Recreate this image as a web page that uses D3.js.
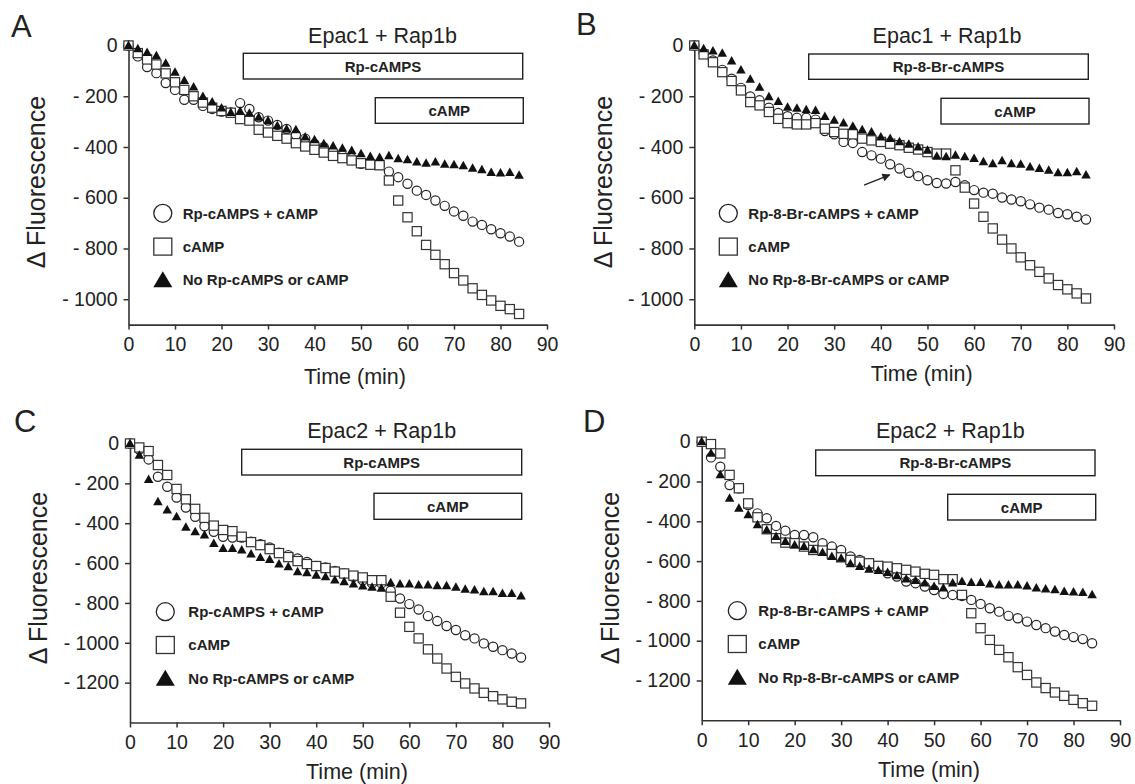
<!DOCTYPE html>
<html><head><meta charset="utf-8">
<script src="https://cdn.jsdelivr.net/npm/d3@7"></script>
<style>body{margin:0;background:#fff}svg{display:block}</style>
</head><body>
<svg id="chart" width="1135" height="784"></svg>
<script>
// ---------- data ----------
const timeMin = [0,2,4,6,8,10,12,14,16,18,20,22,24,26,28,30,32,34,36,38,40,42,44,46,48,50,52,54,56,58,60,62,64,66,68,70,72,74,76,78,80,82,84];
const xTicks = [0,10,20,30,40,50,60,70,80,90];
const yTicksEpac1 = [0,-200,-400,-600,-800,-1000];
const yTicksEpac2 = [0,-200,-400,-600,-800,-1000,-1200];

// Panel A: Epac1 + Rap1b, Rp-cAMPS
const aCircle = [0,-43,-85,-109,-148,-175,-214,-214,-238,-250,-260,-264,-227,-250,-283,-296,-313,-329,-352,-367,-388,-401,-419,-434,-444,-466,-470,-470,-497,-519,-545,-572,-589,-611,-632,-654,-671,-694,-707,-724,-740,-753,-773];
const aSquare = [0,-30,-55,-75,-110,-145,-175,-200,-225,-245,-258,-265,-290,-296,-332,-343,-356,-367,-385,-398,-411,-422,-435,-444,-453,-464,-470,-472,-532,-611,-677,-732,-786,-825,-862,-897,-926,-957,-983,-1005,-1026,-1039,-1058];
const aTriangle = [0,-13,-28,-41,-70,-106,-138,-164,-201,-223,-247,-264,-260,-267,-283,-296,-317,-329,-332,-361,-372,-388,-396,-405,-414,-427,-438,-442,-435,-447,-451,-460,-464,-460,-468,-470,-474,-484,-490,-501,-503,-501,-512];

// Panel B: Epac1 + Rap1b, Rp-8-Br-cAMPS
const bCircle = [0,-30,-59,-96,-131,-167,-201,-216,-245,-266,-279,-285,-285,-292,-337,-350,-380,-384,-420,-433,-446,-468,-485,-502,-515,-531,-542,-544,-538,-551,-570,-580,-584,-599,-607,-614,-626,-639,-647,-660,-665,-675,-686];
const bSquare = [0,-35,-66,-105,-140,-177,-223,-236,-262,-289,-306,-311,-311,-306,-328,-341,-348,-350,-367,-374,-380,-387,-393,-403,-410,-420,-426,-426,-492,-560,-623,-675,-721,-765,-800,-835,-866,-892,-918,-944,-961,-977,-997];
const bTriangle = [0,-13,-22,-31,-61,-97,-133,-165,-202,-221,-244,-248,-254,-257,-280,-295,-306,-319,-332,-341,-361,-367,-380,-390,-400,-413,-437,-439,-433,-439,-446,-459,-466,-455,-466,-468,-479,-485,-492,-502,-502,-498,-511];

// Panel C: Epac2 + Rap1b, Rp-cAMPS
const cCircle = [0,-30,-80,-167,-217,-271,-321,-368,-415,-443,-468,-472,-472,-493,-505,-522,-548,-560,-577,-594,-615,-622,-639,-652,-669,-686,-702,-702,-739,-778,-806,-833,-866,-891,-916,-936,-962,-978,-1003,-1020,-1037,-1054,-1074];
const cSquare = [0,-20,-38,-108,-158,-228,-280,-328,-373,-412,-434,-440,-468,-495,-510,-530,-550,-570,-590,-605,-615,-625,-643,-652,-663,-672,-686,-686,-769,-849,-920,-978,-1033,-1079,-1129,-1171,-1204,-1229,-1251,-1268,-1284,-1296,-1304];
const cTriangle = [0,-59,-181,-293,-334,-368,-421,-443,-460,-502,-527,-527,-535,-555,-572,-582,-605,-619,-644,-649,-661,-669,-686,-694,-706,-716,-722,-727,-699,-706,-706,-711,-711,-714,-714,-722,-732,-736,-744,-744,-753,-753,-766];

// Panel D: Epac2 + Rap1b, Rp-8-Br-cAMPS
const dCircle = [0,-79,-126,-218,-234,-318,-360,-385,-423,-447,-469,-469,-480,-510,-527,-544,-577,-594,-619,-636,-661,-678,-703,-711,-728,-745,-765,-770,-775,-795,-815,-837,-854,-875,-887,-904,-921,-937,-954,-971,-982,-992,-1013];
const dSquare = [0,-12,-59,-167,-234,-310,-380,-440,-485,-507,-510,-527,-544,-547,-564,-581,-594,-603,-611,-624,-628,-636,-644,-653,-664,-669,-691,-691,-770,-862,-937,-996,-1046,-1083,-1133,-1172,-1210,-1238,-1260,-1277,-1297,-1314,-1327];
const dTriangle = [0,-59,-167,-285,-335,-368,-418,-444,-477,-502,-519,-527,-544,-557,-577,-586,-614,-628,-641,-648,-658,-674,-691,-698,-711,-728,-736,-711,-703,-708,-708,-715,-720,-720,-720,-725,-736,-741,-745,-753,-756,-758,-770];

const panelLetters = ["A","B","C","D"];
const panelTitles = ["Epac1 + Rap1b","Epac1 + Rap1b","Epac2 + Rap1b","Epac2 + Rap1b"];
const inhibitorNames = ["Rp-cAMPS","Rp-8-Br-cAMPS","Rp-cAMPS","Rp-8-Br-cAMPS"];

// ---------- layout ----------
const FONT = "'Liberation Sans', Arial, Helvetica, sans-serif";
const INK = "#222";
const layout = [
  {x0:128.5, x90:547,  yTop:45.5,  yBot:324.6, ymin:-1100, yTicks:yTicksEpac1,
   letter:[11,37], title:[382.5,43.3], ytitle:[45,182], xtitle:[355,383.5],
   box1:[114.8,394.2,7.8,25.7], box2:[246.8,394.8,52.2,25.6], leg:[34.3,54.2,167.8,33.3]},
  {x0:694.3, x90:1114, yTop:45.5,  yBot:324.6, ymin:-1100, yTicks:yTicksEpac1,
   letter:[576,35], title:[947,43.3], ytitle:[611.7,182], xtitle:[921.7,381],
   box1:[114.4,394,8.5,25.3], box2:[246.7,394.7,52.8,25.7], leg:[34,54,167.8,33.3],
   arrow:[[36.4,-550],[41.9,-510]]},
  {x0:130,   x90:549,  yTop:443.5, yBot:722.5, ymin:-1400, yTicks:yTicksEpac2,
   letter:[14,431.7], title:[381.7,438.3], ytitle:[46.7,578], xtitle:[357,779],
   box1:[111.7,391.7,5.8,25.7], box2:[244,391.7,49.8,26], leg:[35.3,58.3,168.2,33.3]},
  {x0:701.7, x90:1120, yTop:441.7, yBot:720.3, ymin:-1400, yTicks:yTicksEpac2,
   letter:[583,432], title:[950.3,438.3], ytitle:[619,578], xtitle:[929,777],
   box1:[114,393.3,8.3,25.7], box2:[246,394,52.6,25.7], leg:[35.6,56.6,169,33.3]}
];
const seriesByPanel = [
  [aCircle,aSquare,aTriangle],[bCircle,bSquare,bTriangle],
  [cCircle,cSquare,cTriangle],[dCircle,dSquare,dTriangle]
];

const svg = d3.select("#chart");
const defs = svg.append("defs");
defs.append("marker").attr("id","arrowhead").attr("viewBox","0 0 10 10")
  .attr("refX",9).attr("refY",5).attr("markerWidth",9).attr("markerHeight",8)
  .attr("orient","auto").attr("markerUnits","userSpaceOnUse")
  .append("path").attr("d","M0,0 L10,5 L0,10 z").attr("fill",INK);

function triPath(cx, cy, w, h){
  return `M${cx},${cy - h*0.6} L${cx + w/2},${cy + h*0.4} L${cx - w/2},${cy + h*0.4} Z`;
}

layout.forEach((p, i) => {
  const g = svg.append("g").attr("font-family", FONT);
  const x = d3.scaleLinear().domain([0,90]).range([p.x0,p.x90]);
  const y = d3.scaleLinear().domain([0,p.ymin]).range([p.yTop,p.yBot]);

  // axes
  const xa = g.append("g").attr("transform",`translate(0,${p.yBot})`)
    .call(d3.axisBottom(x).tickValues(xTicks).tickSize(5).tickSizeOuter(0).tickPadding(7.5).tickFormat(d=>d));
  const ya = g.append("g").attr("transform",`translate(${p.x0},0)`)
    .call(d3.axisLeft(y).tickValues(p.yTicks).tickSize(5).tickSizeOuter(0).tickPadding(6)
      .tickFormat(d => d === 0 ? "0" : "- " + Math.abs(d)));
  [xa, ya].forEach(a => {
    a.select(".domain").attr("stroke","#333").attr("stroke-width",1.6);
    a.selectAll(".tick line").attr("stroke","#333").attr("stroke-width",1.5);
    a.selectAll(".tick text").attr("fill",INK).attr("font-size","19.5px").attr("font-family",FONT);
  });

  // labels
  g.append("text").attr("x",p.letter[0]).attr("y",p.letter[1]).attr("font-size","31px").attr("fill",INK).text(panelLetters[i]);
  g.append("text").attr("x",p.title[0]).attr("y",p.title[1]).attr("text-anchor","middle").attr("font-size","21.5px").attr("fill",INK).text(panelTitles[i]);
  g.append("text").attr("transform",`translate(${p.ytitle[0]},${p.ytitle[1]}) rotate(-90)`)
    .attr("text-anchor","middle").attr("font-size","25px").attr("fill",INK).text("\u0394 Fluorescence");
  g.append("text").attr("x",p.xtitle[0]).attr("y",p.xtitle[1]).attr("text-anchor","middle").attr("font-size","21.5px").attr("fill",INK).text("Time (min)");

  // treatment boxes
  [[p.box1, inhibitorNames[i]],[p.box2,"cAMP"]].forEach(([b, lab]) => {
    g.append("rect").attr("x",p.x0+b[0]).attr("y",p.yTop+b[2]).attr("width",b[1]-b[0]).attr("height",b[3])
      .attr("fill","none").attr("stroke",INK).attr("stroke-width",1.4);
    g.append("text").attr("x",p.x0+(b[0]+b[1])/2).attr("y",p.yTop+b[2]+b[3]/2).attr("dy","0.36em")
      .attr("text-anchor","middle").attr("font-size","15px").attr("font-weight","bold").attr("fill",INK).text(lab);
  });

  const [circ, sq, tri] = seriesByPanel[i];
  const pts = s => timeMin.map((t,k) => [x(t), y(s[k])]);

  // circles
  g.append("g").selectAll("circle").data(pts(circ)).join("circle")
    .attr("cx",d=>d[0]).attr("cy",d=>d[1]).attr("r",4.6)
    .attr("fill","#fff").attr("stroke",INK).attr("stroke-width",1.2);
  // squares
  g.append("g").selectAll("rect").data(pts(sq)).join("rect")
    .attr("x",d=>d[0]-4.6).attr("y",d=>d[1]-4.6).attr("width",9.2).attr("height",9.2)
    .attr("fill","#fff").attr("stroke","#333").attr("stroke-width",1.2);
  // triangles
  g.append("g").selectAll("path").data(pts(tri)).join("path")
    .attr("d",d=>triPath(d[0],d[1],9.5,8.5)).attr("fill","#111");

  // arrow (panel B)
  if (p.arrow) {
    g.append("line").attr("x1",x(p.arrow[0][0])).attr("y1",y(p.arrow[0][1]))
      .attr("x2",x(p.arrow[1][0])).attr("y2",y(p.arrow[1][1]))
      .attr("stroke",INK).attr("stroke-width",1.3).attr("marker-end","url(#arrowhead)");
  }

  // legend
  const lx = p.x0 + p.leg[0], tx = p.x0 + p.leg[1];
  const ly = [p.yTop + p.leg[2], p.yTop + p.leg[2] + p.leg[3], p.yTop + p.leg[2] + 2*p.leg[3]];
  const legLabels = [inhibitorNames[i] + " + cAMP", "cAMP", "No " + inhibitorNames[i] + " or cAMP"];
  g.append("circle").attr("cx",lx).attr("cy",ly[0]).attr("r",9).attr("fill","#fff").attr("stroke",INK).attr("stroke-width",1.3);
  g.append("rect").attr("x",lx-9).attr("y",ly[1]-8.5).attr("width",18).attr("height",17).attr("fill","#fff").attr("stroke","#333").attr("stroke-width",1.3);
  g.append("path").attr("d",triPath(lx,ly[2]+1,19,16)).attr("fill","#111");
  legLabels.forEach((lab,k) => {
    g.append("text").attr("x",tx).attr("y",ly[k]).attr("dy","0.36em").attr("font-size","15px")
      .attr("font-weight","bold").attr("fill",INK).text(lab);
  });
});
</script>
</body></html>
